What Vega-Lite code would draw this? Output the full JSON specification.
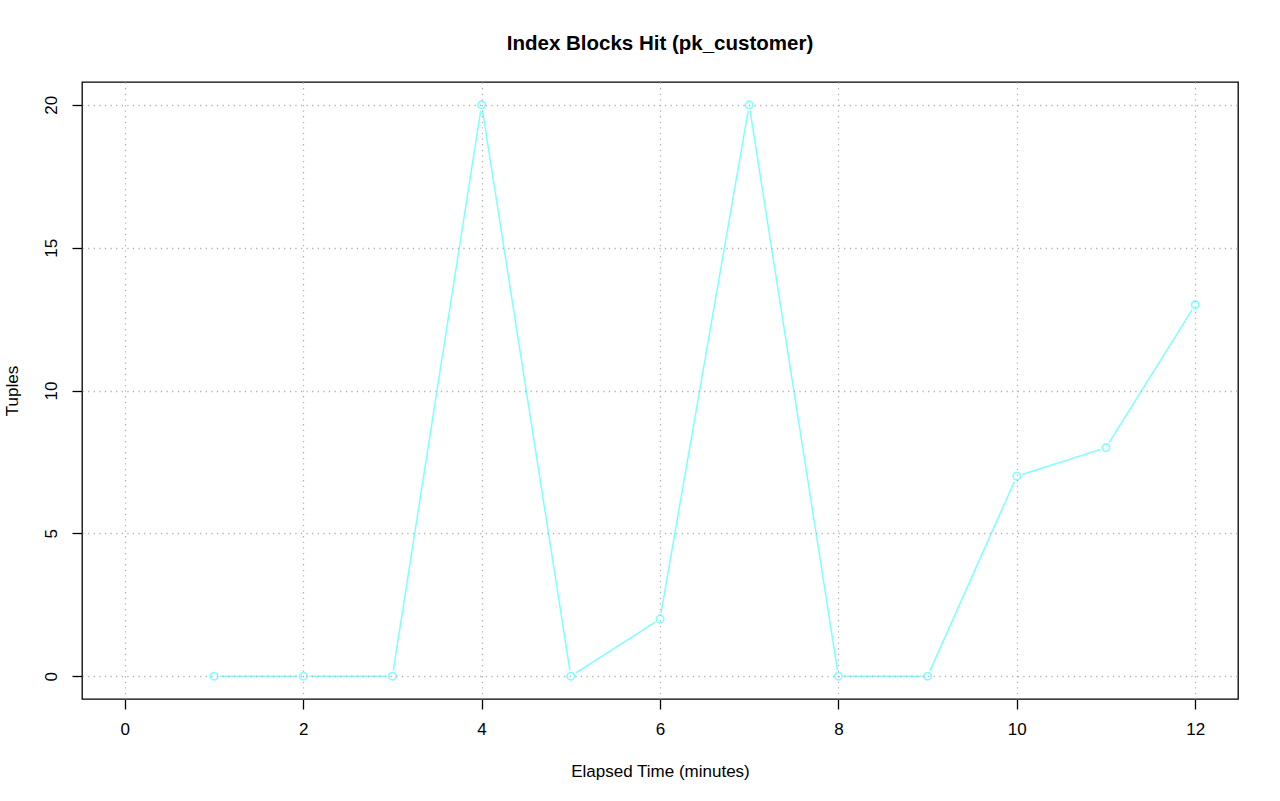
{
  "$schema": "https://vega.github.io/schema/vega-lite/v6.json",
  "width": 1156,
  "height": 617,
  "autosize": {"type": "none"},
  "padding": {"left": 82, "top": 82, "right": 42, "bottom": 102},
  "background": "white",
  "title": {
    "text": "Index Blocks Hit (pk_customer)",
    "font": "Liberation Sans",
    "fontSize": 20.5,
    "fontWeight": "bold",
    "color": "black",
    "anchor": "middle",
    "frame": "group",
    "baseline": "alphabetic",
    "offset": 12
  },
  "data": {
    "values": [
      {"minute": 1, "tuples": 0},
      {"minute": 2, "tuples": 0},
      {"minute": 3, "tuples": 0},
      {"minute": 4, "tuples": 20},
      {"minute": 5, "tuples": 0},
      {"minute": 6, "tuples": 2},
      {"minute": 7, "tuples": 20},
      {"minute": 8, "tuples": 0},
      {"minute": 9, "tuples": 0},
      {"minute": 10, "tuples": 7},
      {"minute": 11, "tuples": 8},
      {"minute": 12, "tuples": 13}
    ]
  },
  "encoding": {
    "x": {
      "field": "minute",
      "type": "quantitative",
      "scale": {"domain": [-0.48, 12.48], "nice": false, "zero": false},
      "axis": {
        "title": "Elapsed Time (minutes)",
        "values": [0, 2, 4, 6, 8, 10, 12],
        "format": "d",
        "domain": false,
        "grid": true,
        "gridColor": "#b4b4b4",
        "gridDash": [1.3, 4.3],
        "gridWidth": 1.3,
        "ticks": true,
        "tickSize": 10,
        "tickColor": "black",
        "tickWidth": 1.3,
        "labelFont": "Liberation Sans",
        "labelFontSize": 17,
        "labelColor": "black",
        "labelPadding": 12,
        "labelBaseline": "top",
        "labelFlush": false,
        "labelOverlap": false,
        "titleFont": "Liberation Sans",
        "titleFontSize": 17,
        "titleFontWeight": "normal",
        "titleColor": "black",
        "titleBaseline": "alphabetic",
        "titleY": 77,
        "zindex": 1
      }
    },
    "y": {
      "field": "tuples",
      "type": "quantitative",
      "scale": {"domain": [-0.8, 20.8], "nice": false, "zero": false},
      "axis": {
        "title": "Tuples",
        "values": [0, 5, 10, 15, 20],
        "format": "d",
        "domain": false,
        "grid": true,
        "gridColor": "#b4b4b4",
        "gridDash": [1.3, 4.3],
        "gridWidth": 1.3,
        "ticks": true,
        "tickSize": 10,
        "tickColor": "black",
        "tickWidth": 1.3,
        "labelFont": "Liberation Sans",
        "labelFontSize": 17,
        "labelColor": "black",
        "labelAngle": -90,
        "labelAlign": "center",
        "labelBaseline": "alphabetic",
        "labelPadding": 16,
        "labelFlush": false,
        "labelOverlap": false,
        "titleFont": "Liberation Sans",
        "titleFontSize": 17,
        "titleFontWeight": "normal",
        "titleColor": "black",
        "titleAngle": -90,
        "titleBaseline": "alphabetic",
        "titleX": -64.5,
        "zindex": 1
      }
    }
  },
  "layer": [
    {"mark": {"type": "line", "color": "#7FFFFF", "strokeWidth": 1.5}},
    {"mark": {"type": "circle", "color": "white", "opacity": 1, "size": 150}},
    {"mark": {"type": "point", "shape": "circle", "filled": false, "color": "#7FFFFF", "opacity": 1, "size": 55, "strokeWidth": 1.6}}
  ],
  "config": {
    "view": {"stroke": "black", "strokeWidth": 1.3}
  }
}
